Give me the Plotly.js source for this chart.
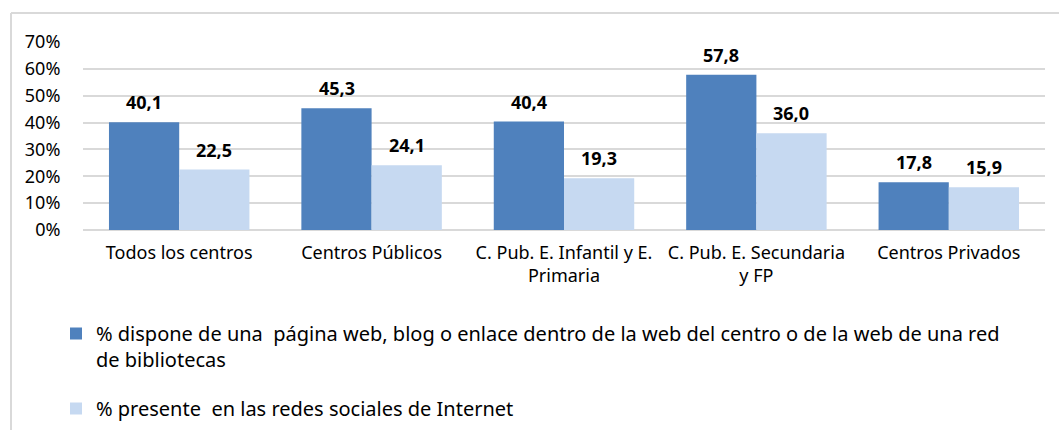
<!DOCTYPE html>
<html><head><meta charset="utf-8">
<script src="https://cdn.plot.ly/plotly-3.0.1.min.js"></script>
<style>html,body{margin:0;padding:0;background:#fff}#c{width:1059px;height:430px}</style>
</head><body><div id="c"></div>
<script>
const categories = ["Todos los centros", "Centros Públicos", "C. Pub. E. Infantil y E.<br>Primaria", "C. Pub. E. Secundaria<br>y FP", "Centros Privados"];
const seriesWeb = [40.1, 45.3, 40.4, 57.8, 17.8];
const seriesSocial = [22.5, 24.1, 19.3, 36.0, 15.9];
const seriesNames = ["% dispone de una  página web, blog o enlace dentro de la web del centro o de la web de una red<br>de bibliotecas", "% presente  en las redes sociales de Internet"];
const yTickVals = [0, 10, 20, 30, 40, 50, 60, 70];
const yTickText = ["0%", "10%", "20%", "30%", "40%", "50%", "60%", "70%"];

const fmt = v => v.toFixed(1).replace('.', ',');
const FONT = "Noto Sans";
const L = 83, R = 14, T = 42, B = 200, W = 1059, H = 430;
const pw = W - L - R, ph = H - T - B;
const px = x => (x - L) / pw, py = y => (H - B - y) / ph;
const BAR_HALF = 35;

const mk = (y, name, color, grp) => ({
  type: 'bar', x: categories, y: y, name: name, legendgroup: grp,
  marker: {color: color},
  hoverinfo: 'none'
});

const data = [mk(seriesWeb, seriesNames[0], '#4f81bd', 'a'), mk(seriesSocial, seriesNames[1], '#c6d9f1', 'b')];

const labelAnn = (vals, shift) => vals.map((v, i) => ({
  x: categories[i], y: v, xref: 'x', yref: 'y',
  text: fmt(v), showarrow: false, xshift: shift, yshift: 20,
  xanchor: 'center', yanchor: 'middle',
  font: {family: FONT, size: 18, color: '#000', weight: 'bold'}
}));

const layout = {
  width: W, height: H,
  margin: {l: L, r: R, t: T, b: B, pad: 0, autoexpand: false},
  paper_bgcolor: '#fff', plot_bgcolor: '#fff',
  barmode: 'group', bargap: 0.27, bargroupgap: 0,
  font: {family: FONT, size: 18, color: '#000'},
  xaxis: {
    tickfont: {family: FONT, size: 18, color: '#000'},
    ticks: 'outside', ticklen: 6, tickcolor: 'rgba(0,0,0,0)',
    showgrid: false, showline: false, zeroline: false, fixedrange: true
  },
  yaxis: {
    range: [0, 70], tickvals: yTickVals, ticktext: yTickText,
    tickfont: {family: FONT, size: 18, color: '#000'},
    ticks: 'outside', ticklen: 18, tickcolor: 'rgba(0,0,0,0)',
    showgrid: true, gridcolor: '#d9d9d9', gridwidth: 2,
    zeroline: true, zerolinecolor: '#d9d9d9', zerolinewidth: 2,
    showline: false, fixedrange: true
  },
  showlegend: true,
  legend: {
    x: px(56), y: py(314), xanchor: 'left', yanchor: 'top',
    orientation: 'v', traceorder: 'grouped', valign: 'top',
    font: {family: FONT, size: 20, color: '#000'},
    itemwidth: 30, tracegroupgap: 20, bgcolor: 'rgba(0,0,0,0)'
  },
  annotations: labelAnn(seriesWeb, -BAR_HALF).concat(labelAnn(seriesSocial, BAR_HALF)),
  shapes: [
    {type: 'line', xref: 'paper', yref: 'paper', x0: px(11), x1: px(1059), y0: py(13), y1: py(13), line: {color: '#d9d9d9', width: 2}},
    {type: 'line', xref: 'paper', yref: 'paper', x0: px(11), x1: px(11), y0: py(13), y1: py(430), line: {color: '#d9d9d9', width: 2}}
  ]
};

Plotly.newPlot('c', data, layout, {displayModeBar: false, staticPlot: true});
</script></body></html>
